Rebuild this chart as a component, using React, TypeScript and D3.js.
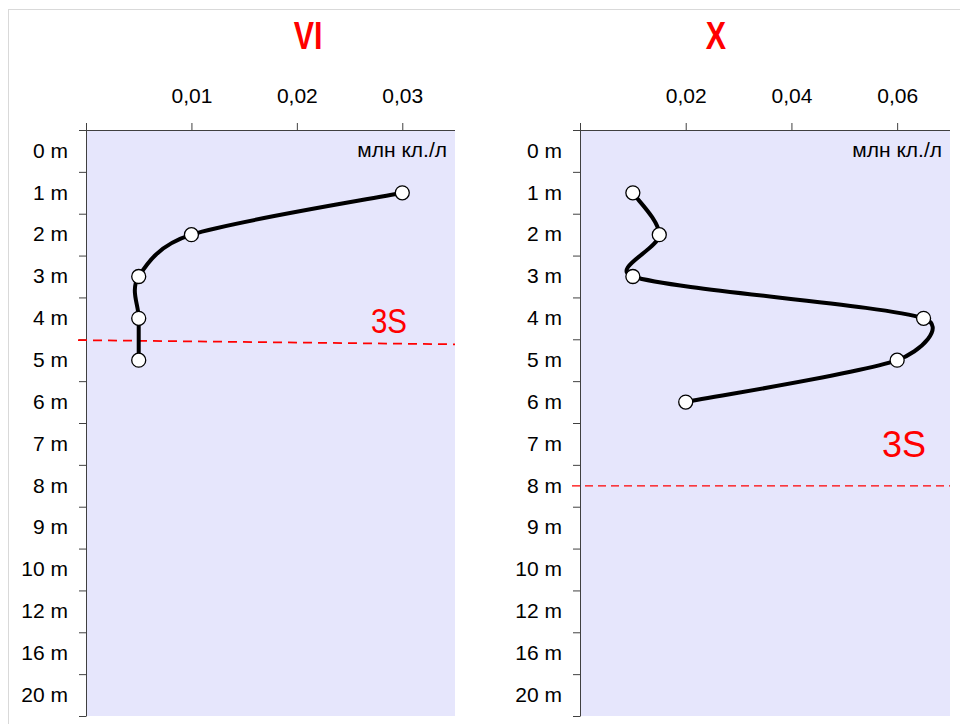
import React, { useEffect, useRef } from 'react';
import * as d3 from 'd3';

// depth rows (category axis, top to bottom)
const depthLabels = ['0 m', '1 m', '2 m', '3 m', '4 m', '5 m', '6 m', '7 m', '8 m', '9 m', '10 m', '12 m', '16 m', '20 m'];

const titles = ['VI', 'X'];
const unitLabel = 'млн кл./л';

// panel VI
const viDepths = [1, 2, 3, 4, 5];
const viValues = [0.03, 0.01, 0.005, 0.005, 0.005];
const viTicks = [0, 0.01, 0.02, 0.03];
const viMax = 0.035;
const vi3S = [4.52, 4.62]; // row position where the 3S line starts / ends

// panel X
const xDepths = [1, 2, 3, 4, 5, 6];
const xValues = [0.01, 0.015, 0.01, 0.065, 0.06, 0.02];
const xTicks = [0, 0.02, 0.04, 0.06];
const xMax = 0.07;
const x3S = [8, 8];

const FONT = '"Liberation Sans", Arial, sans-serif';

const locale = d3.formatLocale({ decimal: ',', thousands: ' ', grouping: [3], currency: ['', ''] });
const fmt = locale.format('.2f');

// Excel-like smoothing: bezier with 1/6 tangents, capped at half the segment
function smoothPath(pts: [number, number][]) {
  const p = d3.path();
  p.moveTo(pts[0][0], pts[0][1]);
  const f = 1 / 6;
  for (let i = 0; i < pts.length - 1; i++) {
    const p0 = pts[Math.max(i - 1, 0)];
    const p1 = pts[i];
    const p2 = pts[i + 1];
    const p3 = pts[Math.min(i + 2, pts.length - 1)];
    const half = Math.hypot(p2[0] - p1[0], p2[1] - p1[1]) / 2;
    const t1 = [p2[0] - p0[0], p2[1] - p0[1]];
    const t2 = [p3[0] - p1[0], p3[1] - p1[1]];
    const l1 = Math.hypot(t1[0], t1[1]);
    const l2 = Math.hypot(t2[0], t2[1]);
    const f1 = l1 * f > half ? half / l1 : f;
    const f2 = l2 * f > half ? half / l2 : f;
    p.bezierCurveTo(
      p1[0] + t1[0] * f1, p1[1] + t1[1] * f1,
      p2[0] - t2[0] * f2, p2[1] - t2[1] * f2,
      p2[0], p2[1]
    );
  }
  return p.toString();
}

// s3narrow: the VI label is set in a condensed face, squeezed here
const panels = [
  { title: titles[0], depths: viDepths, values: viValues, ticks: viTicks, max: viMax, s3: vi3S,
    left: 86, right: 455, titleX: 308, s3x: 389, s3y: 333, s3narrow: 0.82, s3dash: '9,6', s3w: 1.8 },
  { title: titles[1], depths: xDepths, values: xValues, ticks: xTicks, max: xMax, s3: x3S,
    left: 580, right: 950, titleX: 716, s3x: 904, s3y: 457, s3narrow: 1, s3dash: '8,5', s3w: 1.3 },
];

const W = 960, H = 724;
const top = 130, bottom = 716;

const App = () => {
  const ref = useRef<SVGSVGElement>(null);

  useEffect(() => {
    const svg = d3.select(ref.current);
    svg.selectAll('*').remove();

    svg.append('rect').attr('width', W).attr('height', H).attr('fill', '#fff');
    // chart border (cropped)
    svg.append('rect')
      .attr('x', 8.5).attr('y', 9.5).attr('width', W).attr('height', H)
      .attr('fill', 'none').attr('stroke', '#d9d9d9');

    const yBand = d3.scaleBand().domain(depthLabels).range([top, bottom]);
    const yRow = d3.scaleLinear().domain([-0.5, depthLabels.length - 0.5]).range([top, bottom]);
    const rowOf = (m: number) => depthLabels.indexOf(`${m} m`);

    panels.forEach(pn => {
      const g = svg.append('g');
      const x = d3.scaleLinear().domain([0, pn.max]).range([pn.left, pn.right]);

      g.append('rect')
        .attr('x', pn.left).attr('y', top)
        .attr('width', pn.right - pn.left).attr('height', bottom - top)
        .attr('fill', '#e6e6fc');

      // title (condensed bold)
      g.append('text')
        .attr('transform', `translate(${pn.titleX},49) scale(0.8,1)`)
        .attr('text-anchor', 'middle')
        .attr('font-family', FONT).attr('font-weight', 'bold').attr('font-size', 38)
        .attr('fill', '#ff0000')
        .text(pn.title);

      // top value axis
      const xAxis = g.append('g')
        .attr('transform', `translate(0,${top})`)
        .call(d3.axisTop(x).tickValues(pn.ticks).tickSize(7).tickSizeOuter(0).tickPadding(20)
          .tickFormat(d => (+d === 0 ? '' : fmt(+d))));
      xAxis.select('.domain').remove();
      xAxis.selectAll('line').attr('stroke', '#404040');
      xAxis.selectAll('text').attr('font-family', FONT).attr('font-size', 21).attr('fill', '#000');
      g.append('line')
        .attr('x1', pn.left - 7).attr('x2', pn.right)
        .attr('y1', top + 0.5).attr('y2', top + 0.5)
        .attr('stroke', '#404040');

      // left depth axis: ticks between rows
      const yTicks = d3.range(depthLabels.length + 1).map(i => i - 0.5);
      const yAxis = g.append('g')
        .attr('transform', `translate(${pn.left},0)`)
        .call(d3.axisLeft(yRow).tickValues(yTicks).tickSize(7).tickSizeOuter(0).tickFormat(() => ''));
      yAxis.select('.domain').attr('stroke', '#404040');
      yAxis.selectAll('line').attr('stroke', '#404040');

      const yLab = g.append('g')
        .attr('transform', `translate(${pn.left},0)`)
        .call(d3.axisLeft(yBand).tickSize(0).tickPadding(18));
      yLab.select('.domain').remove();
      yLab.selectAll('text').attr('font-family', FONT).attr('font-size', 21).attr('fill', '#000');

      g.append('text')
        .attr('x', pn.right - 8).attr('y', 157)
        .attr('text-anchor', 'end')
        .attr('font-family', FONT).attr('font-size', 21).attr('fill', '#000')
        .text(unitLabel);

      // 3S threshold
      g.append('line')
        .attr('x1', pn.left - 8).attr('x2', pn.right)
        .attr('y1', yRow(pn.s3[0])).attr('y2', yRow(pn.s3[1]))
        .attr('stroke', '#ff0000').attr('stroke-width', pn.s3w)
        .attr('stroke-dasharray', pn.s3dash);
      g.append('text')
        .attr('transform', `translate(${pn.s3x},${pn.s3y}) scale(${pn.s3narrow},1)`)
        .attr('text-anchor', 'middle')
        .attr('font-family', FONT).attr('font-size', 36).attr('fill', '#ff0000')
        .text('3S');

      // data curve
      const pts: [number, number][] = pn.depths.map((m, i) => [x(pn.values[i]), yRow(rowOf(m))]);
      g.append('path')
        .attr('d', smoothPath(pts))
        .attr('fill', 'none').attr('stroke', '#000').attr('stroke-width', 4)
        .attr('stroke-linejoin', 'round');
      g.selectAll('circle.pt')
        .data(pts)
        .enter().append('circle')
        .attr('class', 'pt')
        .attr('cx', d => d[0]).attr('cy', d => d[1]).attr('r', 7)
        .attr('fill', '#fff').attr('stroke', '#000').attr('stroke-width', 1.3);
    });
  }, []);

  return (
    <svg ref={ref} width={W} height={H} style={{ position: 'absolute', left: 0, top: 0, display: 'block' }} />
  );
};

export default App;
